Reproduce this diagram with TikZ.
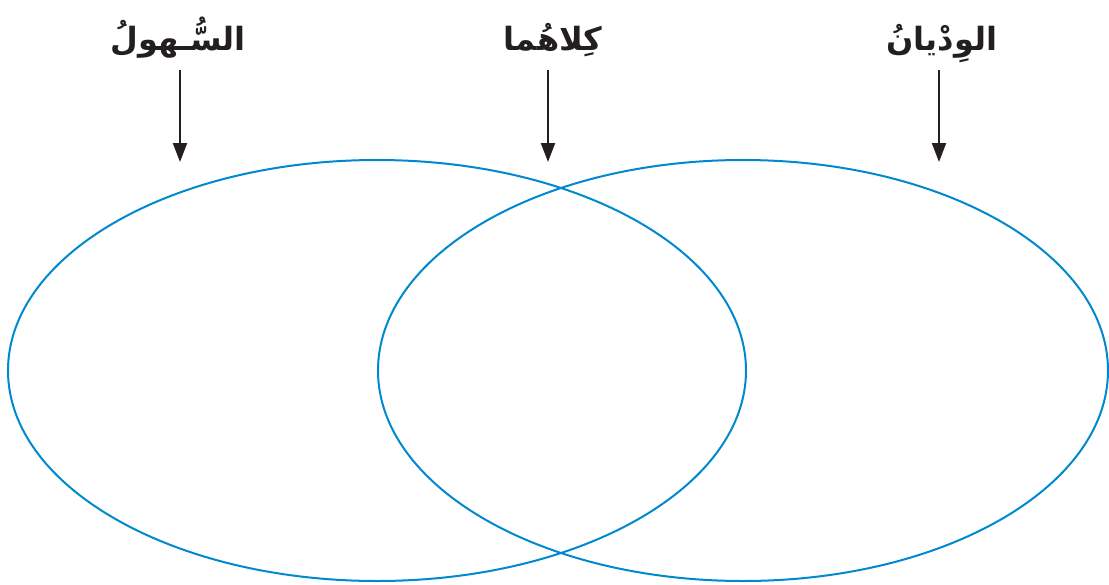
\documentclass[tikz,border=0pt]{standalone}
\usepackage{fontspec}
\newfontfamily\arabicfont[Script=Arabic]{DejaVu Sans}
\TeXXeTstate=1
\usetikzlibrary{arrows.meta}
\definecolor{vennblue}{RGB}{0,137,207}
\definecolor{inkdark}{RGB}{35,31,32}
\tikzset{
  venn/.style={draw=vennblue, line width=2pt},
  lbl/.style={font=\arabicfont\bfseries\fontsize{32}{36}\selectfont, text=inkdark, inner sep=0pt, anchor=base},
  arr/.style={draw=inkdark, line width=2pt, -{Triangle[length=19pt,width=14pt]}}
}
\begin{document}
\begin{tikzpicture}[x=1pt,y=-1pt]
\useasboundingbox (0,0) rectangle (1109,584);
\draw[venn] (377,370.5) ellipse [x radius=369, y radius=210.5];
\draw[venn] (743,370.5) ellipse [x radius=365, y radius=210.5];
\node[lbl] (l1) at (178,50) {\beginR السُّـهولُ\endR};
\node[lbl] (l2) at (553,50) {\beginR كِلاهُما\endR};
\node[lbl] (l3) at (942,50) {\beginR الوِدْيانُ\endR};
\coordinate (s1) at (180,70);
\coordinate (t1) at (180,162);
\coordinate (s2) at (548,70);
\coordinate (t2) at (548,162);
\coordinate (s3) at (939,70);
\coordinate (t3) at (939,162);
\draw[arr] (s1) -- (t1);
\draw[arr] (s2) -- (t2);
\draw[arr] (s3) -- (t3);
\end{tikzpicture}
\end{document}
